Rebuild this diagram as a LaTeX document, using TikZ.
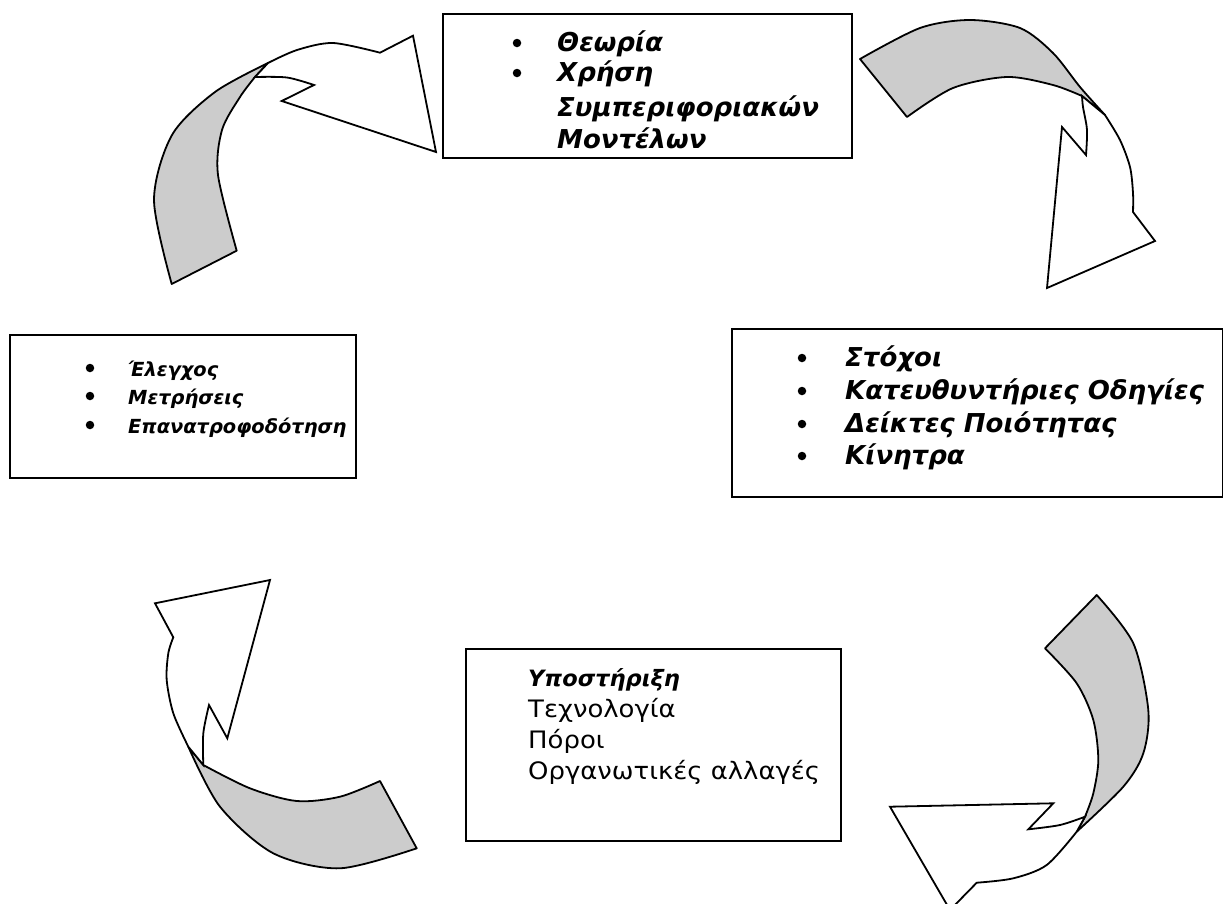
\documentclass[tikz,border=0pt]{standalone}
\usepackage{fontspec}
\setmainfont{DejaVu Sans}
\newfontfamily\widefont[FakeStretch=1.08]{DejaVu Sans}
\definecolor{ribbon}{HTML}{CCCCCC}
\begin{document}
\begin{tikzpicture}[x=1pt,y=-1pt,
  box/.style={draw, line width=1.8pt, rectangle, inner sep=0pt, anchor=north west},
  itm/.style={anchor=base west, inner sep=0pt, font=\fontsize{26}{30}\selectfont\bfseries\itshape},
  itmsmall/.style={anchor=base west, inner sep=0pt, font=\fontsize{19.4}{24}\selectfont\bfseries\itshape},
  itmbottom/.style={anchor=base west, inner sep=0pt, font=\fontsize{22.5}{26}\selectfont\bfseries\itshape},
  plain/.style={anchor=base west, inner sep=0pt, font=\widefont\fontsize{24}{28}\selectfont},
  dot/.style={circle, fill=black, inner sep=0pt, minimum size=8.5pt},
  tailpart/.style={draw, fill=ribbon, line width=1.8pt, line join=round},
  headpart/.style={draw, fill=white, line width=1.8pt, line join=miter},
]
\useasboundingbox (0,0) rectangle (1223,903);

% ---------- boxes ----------
\node[box, minimum width=409pt, minimum height=144pt] (btop) at (442,13) {};
\node[box, minimum width=346pt, minimum height=143pt] (bleft) at (9,334) {};
\node[box, minimum width=491pt, minimum height=168pt] (bright) at (731,328) {};
\node[box, minimum width=375pt, minimum height=192pt] (bbottom) at (465,648) {};

% ---------- top box text ----------
\node[dot] (t1d) at (517,43) {};
\node[itm] (t1) at (557,51) {Θεωρία};
\node[dot] (t2d) at (517,73) {};
\node[itm] (t2) at (557,81) {Χρήση};
\node[itm] (t3) at (557,116) {Συμπεριφοριακών};
\node[itm] (t4) at (557,148) {Μοντέλων};

% ---------- left box text ----------
\node[dot] (l1d) at (90,368) {};
\node[itmsmall] (l1) at (128,376) {Έλεγχος};
\node[dot] (l2d) at (90,396) {};
\node[itmsmall] (l2) at (128,404) {Μετρήσεις};
\node[dot] (l3d) at (90,425) {};
\node[itmsmall] (l3) at (128,433) {Επανατροφοδότηση};

% ---------- right box text ----------
\node[dot] (r1d) at (802,358) {};
\node[itm] (r1) at (845,366) {Στόχοι};
\node[dot] (r2d) at (802,391) {};
\node[itm] (r2) at (845,399) {Κατευθυντήριες Οδηγίες};
\node[dot] (r3d) at (802,424) {};
\node[itm] (r3) at (845,432) {Δείκτες Ποιότητας};
\node[dot] (r4d) at (802,456) {};
\node[itm] (r4) at (845,464) {Κίνητρα};

% ---------- bottom box text ----------
\node[itmbottom] (s1) at (528,686) {Υποστήριξη};
\node[plain] (s2) at (528,717) {Τεχνολογία};
\node[plain] (s3) at (528,748) {Πόροι};
\node[plain] (s4) at (528,779) {Οργανωτικές αλλαγές};

% ---------- arrow 1: top-left ----------
\path[tailpart] plot[smooth] coordinates {(171.7,284) (154,200) (172,135) (215,92) (268,63)}
  -- plot[smooth] coordinates {(255,77) (240,97) (222,130) (218,175) (236.7,250.7)} -- cycle;
\path[headpart] plot[smooth] coordinates {(268,63) (297,50) (333,43) (380,52.7)}
  -- (413,35.7) -- (436,152) -- (281.7,101) -- (314,85)
  -- plot[smooth] coordinates {(314,85) (287,77.5) (255,77)} -- cycle;

% ---------- arrow 2: top-right ----------
\path[tailpart] plot[smooth] coordinates {(860,59) (920,28) (970,20) (1020,28) (1053,53) (1080,87) (1105,115)}
  -- plot[smooth] coordinates {(1082,96) (1053,85) (1007,77) (953,88) (907,117)} -- cycle;
\path[headpart] plot[smooth] coordinates {(1105,115) (1120,140) (1130,167) (1133,193) (1133,212)}
  -- (1155,241) -- (1047,288) -- (1062,127) -- (1086,155)
  -- plot[smooth] coordinates {(1086,155) (1087,130) (1083,107) (1082,96)} -- cycle;

% ---------- arrow 3: bottom-right ----------
\path[tailpart] plot[smooth] coordinates {(1096.7,595) (1133.3,643.3) (1148.3,710) (1143.3,753.3) (1123.3,786.7) (1076.7,831.7)}
  -- plot[smooth] coordinates {(1085,816.7) (1093.3,793.3) (1098.3,760) (1093.3,720) (1076.7,683.3) (1045,648.3)} -- cycle;
\path[headpart] plot[smooth] coordinates {(1076.7,831.7) (1046.7,865) (1013.3,878.3) (976.7,882.7)}
  -- (950,910) -- (890,806.7) -- (1053.3,803.3) -- (1028.3,829.3)
  -- plot[smooth] coordinates {(1028.3,829.3) (1060,825) (1085,816.7)} -- cycle;

% ---------- arrow 4: bottom-left ----------
\path[tailpart] plot[smooth] coordinates {(416.7,848.3) (340,868.3) (273.3,853.3) (220,806.7) (188.3,746.7)}
  -- plot[smooth] coordinates {(203.3,765) (250,788.3) (296.7,801) (340,796.7) (380,781)} -- cycle;
\path[headpart] plot[smooth] coordinates {(188.3,746.7) (173.3,713.3) (166.7,680) (168.3,653.3) (173.3,637.3)}
  -- (155,603.3) -- (270,580) -- (227.3,738.3) -- (209,705)
  -- plot[smooth] coordinates {(209,705) (203.3,733.3) (203.3,765)} -- cycle;
\end{tikzpicture}
\end{document}
